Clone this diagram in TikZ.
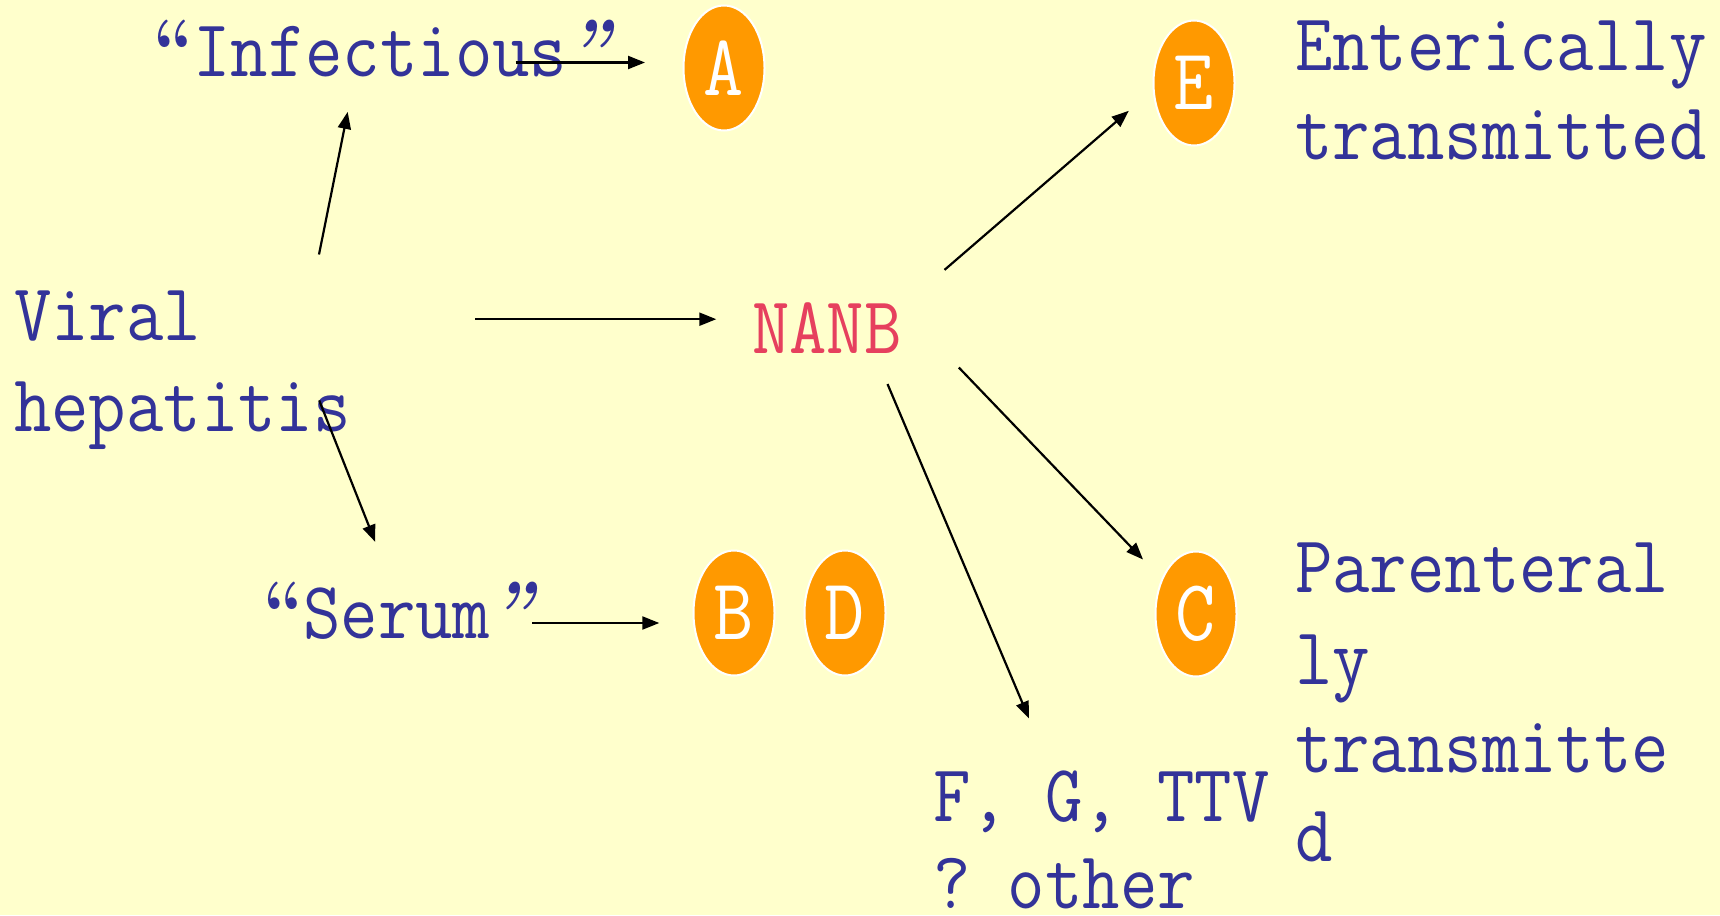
\documentclass[tikz,border=0pt]{standalone}
\usepackage{graphicx}
\usetikzlibrary{arrows.meta,shapes.geometric}
\definecolor{bgyellow}{HTML}{FFFFCC}
\definecolor{txtblue}{HTML}{333399}
\definecolor{nanbred}{HTML}{E6405E}
\definecolor{virusorange}{HTML}{FF9900}
\newcommand\vstretch[1]{\scalebox{1}[1.12]{#1}}
\newcommand\openq{\makebox[38.1pt][r]{\rmfamily\bfseries “}}
\newcommand\closeq{\makebox[38.1pt][l]{\rmfamily\bfseries\itshape ”}}
\begin{document}
\frenchspacing
\begin{tikzpicture}[x=1pt,y=1pt,
  lbl/.style={inner sep=0pt, anchor=base west, text=txtblue,
    font=\fontsize{72.6}{85}\selectfont\ttfamily\frenchspacing},
  redlbl/.style={lbl, text=nanbred},
  virus/.style={ellipse, fill=virusorange, draw=white, line width=2pt,
    minimum width=81pt, minimum height=125pt, inner sep=0pt, text=white,
    font=\fontsize{78}{90}\selectfont\ttfamily},
  conn/.style={-{Triangle[length=17pt,width=13pt]}, line width=2.2pt, black}]
\fill[bgyellow] (0,0) rectangle (1720,-915);
\useasboundingbox (0,0) rectangle (1720,-915);

% labels
\node[lbl] (infectious) at (155,-77) {\vstretch{\openq Infectious\closeq}};
\node[lbl] (viral1) at (14,-340) {\vstretch{Viral}};
\node[lbl] (viral2) at (14,-431) {\vstretch{hepatitis}};
\node[lbl] (serum) at (265,-638) {\vstretch{\openq Serum\closeq}};
\node[redlbl] (nanb) at (752,-353) {\vstretch{NANB}};
\node[lbl] (ent1) at (1295,-71) {\vstretch{Enterically}};
\node[lbl] (ent2) at (1295,-159) {\vstretch{transmitted}};
\node[lbl] (par1) at (1295,-592) {\vstretch{Parenteral}};
\node[lbl] (par2) at (1295,-684) {\vstretch{ly}};
\node[lbl] (par3) at (1295,-772) {\vstretch{transmitte}};
\node[lbl] (par4) at (1295,-861) {\vstretch{d}};
\node[lbl] (fg1) at (933,-821) {\vstretch{F, G, TTV}};
\node[lbl] (fg2) at (933,-908) {\vstretch{? other}};

% viruses
\node[virus] (A) at (724,-68) {\vstretch{A}};
\node[virus] (E) at (1194,-83) {\vstretch{E}};
\node[virus] (B) at (734,-613) {\vstretch{B}};
\node[virus] (D) at (845,-613) {\vstretch{D}};
\node[virus] (C) at (1196,-614) {\vstretch{C}};

% connector end points
\coordinate (v-inf-s) at (319,-254.5);
\coordinate (v-inf-e) at (347.7,-111.9);
\coordinate (inf-a-s) at (515.6,-62.5);
\coordinate (inf-a-e) at (645,-62.5);
\coordinate (v-nanb-s) at (475,-319.2);
\coordinate (v-nanb-e) at (716.3,-319.2);
\coordinate (v-ser-s) at (319.2,-400.4);
\coordinate (v-ser-e) at (375.2,-541.9);
\coordinate (ser-b-s) at (532,-623);
\coordinate (ser-b-e) at (659.3,-623);
\coordinate (nanb-e-s) at (944.5,-269.9);
\coordinate (nanb-e-e) at (1128.8,-110.8);
\coordinate (nanb-c-s) at (958.8,-367.5);
\coordinate (nanb-c-e) at (1143,-559.5);
\coordinate (nanb-f-s) at (887.5,-384);
\coordinate (nanb-f-e) at (1029,-718.5);

\draw[conn] (v-inf-s) -- (v-inf-e);
\draw[conn] (inf-a-s) -- (inf-a-e);
\draw[conn] (v-nanb-s) -- (v-nanb-e);
\draw[conn] (v-ser-s) -- (v-ser-e);
\draw[conn] (ser-b-s) -- (ser-b-e);
\draw[conn] (nanb-e-s) -- (nanb-e-e);
\draw[conn] (nanb-c-s) -- (nanb-c-e);
\draw[conn] (nanb-f-s) -- (nanb-f-e);
\end{tikzpicture}
\end{document}
